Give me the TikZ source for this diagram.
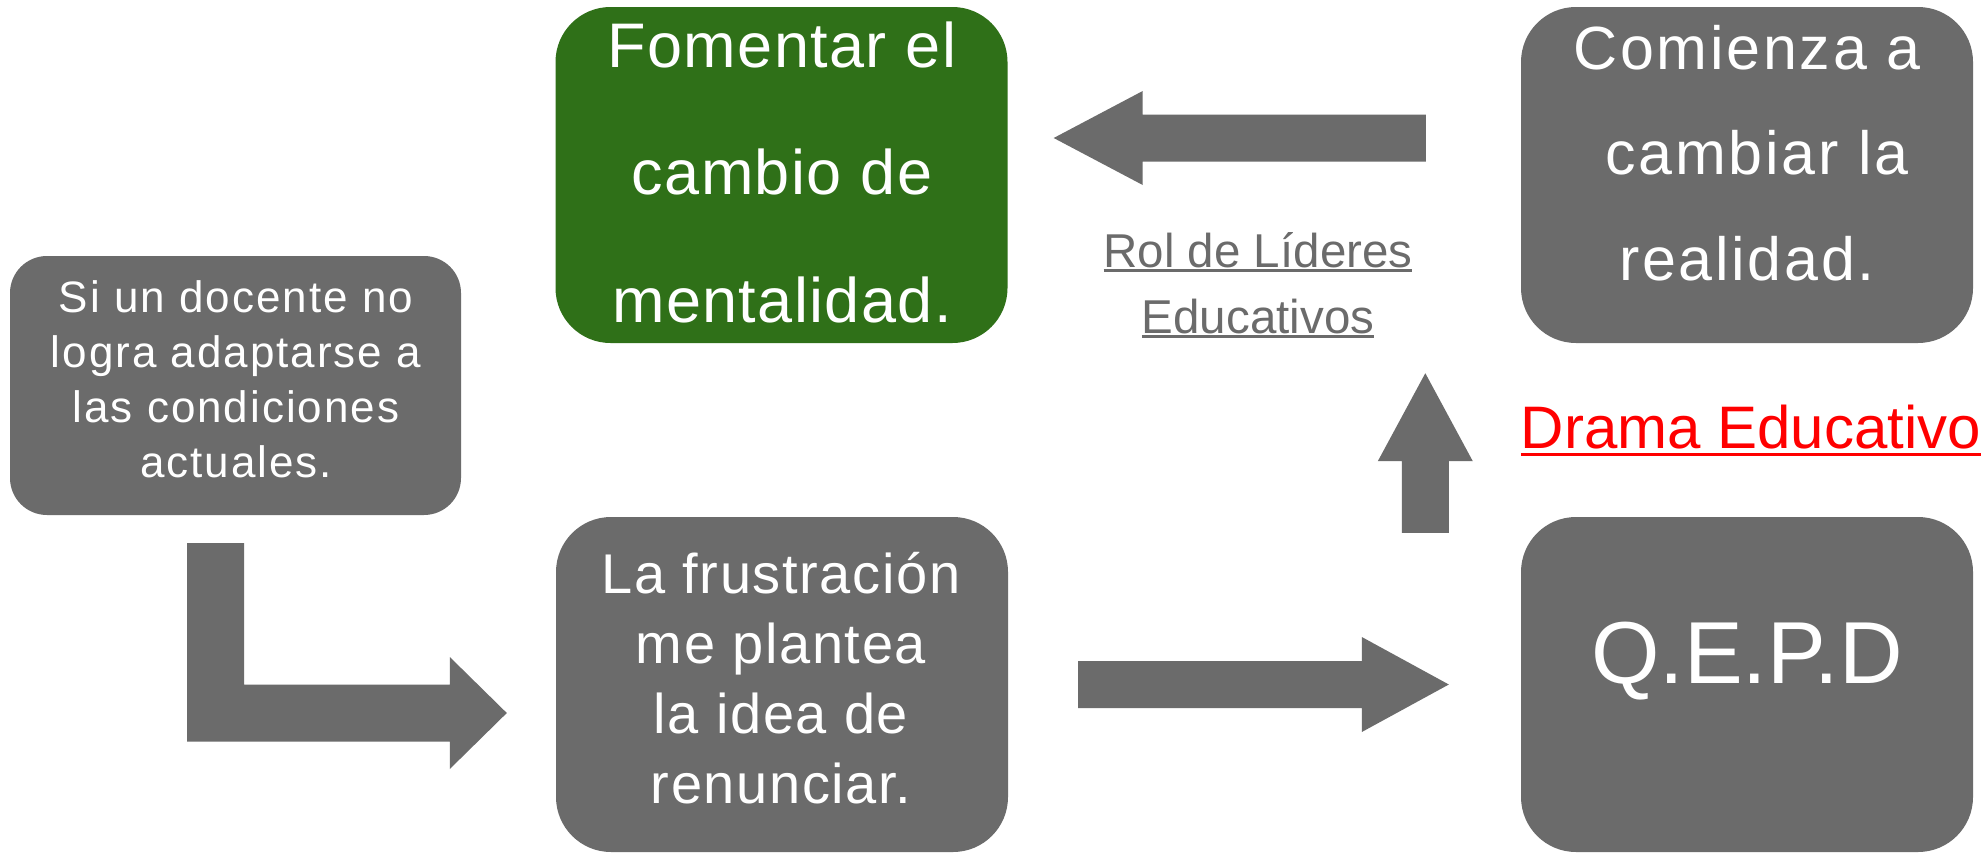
\documentclass[tikz,border=0pt]{standalone}
\usepackage{fontspec}
\setmainfont{Liberation Sans}
\newfontfamily\fLeft[LetterSpace=4.5]{Liberation Sans}
\newfontfamily\fGreen[LetterSpace=2.2]{Liberation Sans}
\newfontfamily\fTR[LetterSpace=4.5]{Liberation Sans}
\newfontfamily\fBM[LetterSpace=2.9]{Liberation Sans}
\usetikzlibrary{calc}
\definecolor{boxgray}{HTML}{6B6B6B}
\definecolor{boxgreen}{HTML}{2F7018}
\definecolor{labelgray}{HTML}{6B6B6B}
\definecolor{dramared}{HTML}{FF0000}
\newcommand\ulbox[3]{\setbox0=\hbox{#3}\rlap{\rule[-#1]{\wd0}{#2}}\box0}
\newcommand\blockarrow[6]{%
  \coordinate (#1h) at ($(#3)!#6!(#2)$);
  \fill[arrowfill] ($(#2)!#4!90:(#3)$) -- ($(#1h)!#4!-90:(#2)$) -- ($(#1h)!#5!-90:(#2)$) -- (#3)
     -- ($(#1h)!#5!90:(#2)$) -- ($(#1h)!#4!90:(#2)$) -- ($(#2)!#4!-90:(#3)$) -- cycle;
}
\begin{document}
\begin{tikzpicture}[x=1pt,y=-1pt,
  greybox/.style={rectangle, fill=boxgray, draw=none, inner sep=0pt, rounded corners=55pt,
     minimum width=452pt, minimum height=336pt},
  greenbox/.style={greybox, fill=boxgreen},
  boxtext/.style={text=white, inner sep=0pt, align=center, anchor=base},
  labeltext/.style={inner sep=0pt, align=center, anchor=base},
  arrowfill/.style={fill=boxgray}]
\useasboundingbox (0,0) rectangle (1986,854);
\fill[white] (0,0) rectangle (1986,854);

% boxes
\node[greybox, minimum width=451pt, minimum height=259pt, rounded corners=37pt] (b1) at (235.5,385.5) {};
\node[greenbox] (b2) at (781.5,175) {};
\node[greybox] (b3) at (1747,175) {};
\node[greybox, minimum height=335pt] (b5) at (782,684.5) {};
\node[greybox, minimum height=335pt] (b6) at (1747,684.5) {};

% texts (base = baseline of the last line)
\node[boxtext, font=\fLeft\fontsize{44}{55}\selectfont] (t1) at (236,477)
  {Si un docente no\\logra adaptarse a\\las condiciones\\actuales.};
\node[boxtext, font=\fGreen\fontsize{63}{127.5}\selectfont] (t2) at (782,322)
  {Fomentar el\\cambio de\\mentalidad.};
\node[boxtext, font=\fTR\fontsize{61}{105.5}\selectfont] (t3) at (1747,280)
  {Comienza a\\\hspace*{20pt}cambiar la\\realidad.};
\node[boxtext, font=\fBM\fontsize{56}{70}\selectfont] (t5) at (781,803)
  {La frustración\\me plantea\\la idea de\\renunciar.};
\node[boxtext, font=\fontsize{88}{100}\selectfont] (t6) at (1747,683) {Q.E.P.D};

\node[labeltext, text=labelgray, font=\fontsize{47.5}{66}\selectfont] (rol) at (1258,333)
  {\ulbox{4.5pt}{3pt}{Rol de Líderes}\\\ulbox{4.5pt}{3pt}{Educativos}};
\node[labeltext, text=dramared, font=\fontsize{60}{70}\selectfont] (drama) at (1751,448)
  {\ulbox{7.5pt}{3pt}{Drama Educativo}};

% arrows
\coordinate (a1s) at ($(b3.west)+(-95,-37)$);
\coordinate (a1e) at ($(b2.east)+(46,-37)$);
\blockarrow{a1}{a1s}{a1e}{23.5pt}{47pt}{89pt}

\coordinate (a2s) at ($(b5.east)+(70,0)$);
\coordinate (a2e) at ($(b6.west)+(-72,0)$);
\blockarrow{a2}{a2s}{a2e}{23.5pt}{47.5pt}{87pt}

\coordinate (a3s) at ($(b6.north west)+(-95.5,16)$);
\coordinate (a3e) at ($(b3.south west)+(-95.5,30)$);
\blockarrow{a3}{a3s}{a3e}{23.5pt}{47.5pt}{88pt}

\coordinate (la) at ($(b1.south)+(-20,28)$);
\coordinate (lb) at ($(b5.west)+(-49,28.5)$);
\fill[arrowfill] let \p1=(la), \p2=(lb) in
  (\x1-28.5pt,\y1) -- (\x1+28.5pt,\y1) -- (\x1+28.5pt,\y2+28.5pt) -- (\x2-57pt,\y2+28.5pt)
  -- (\x2-57pt,\y2+56pt) -- (\x2,\y2) -- (\x2-57pt,\y2-56pt) -- (\x2-57pt,\y2-28.5pt)
  -- (\x1-28.5pt,\y2-28.5pt) -- cycle;
\end{tikzpicture}
\end{document}
